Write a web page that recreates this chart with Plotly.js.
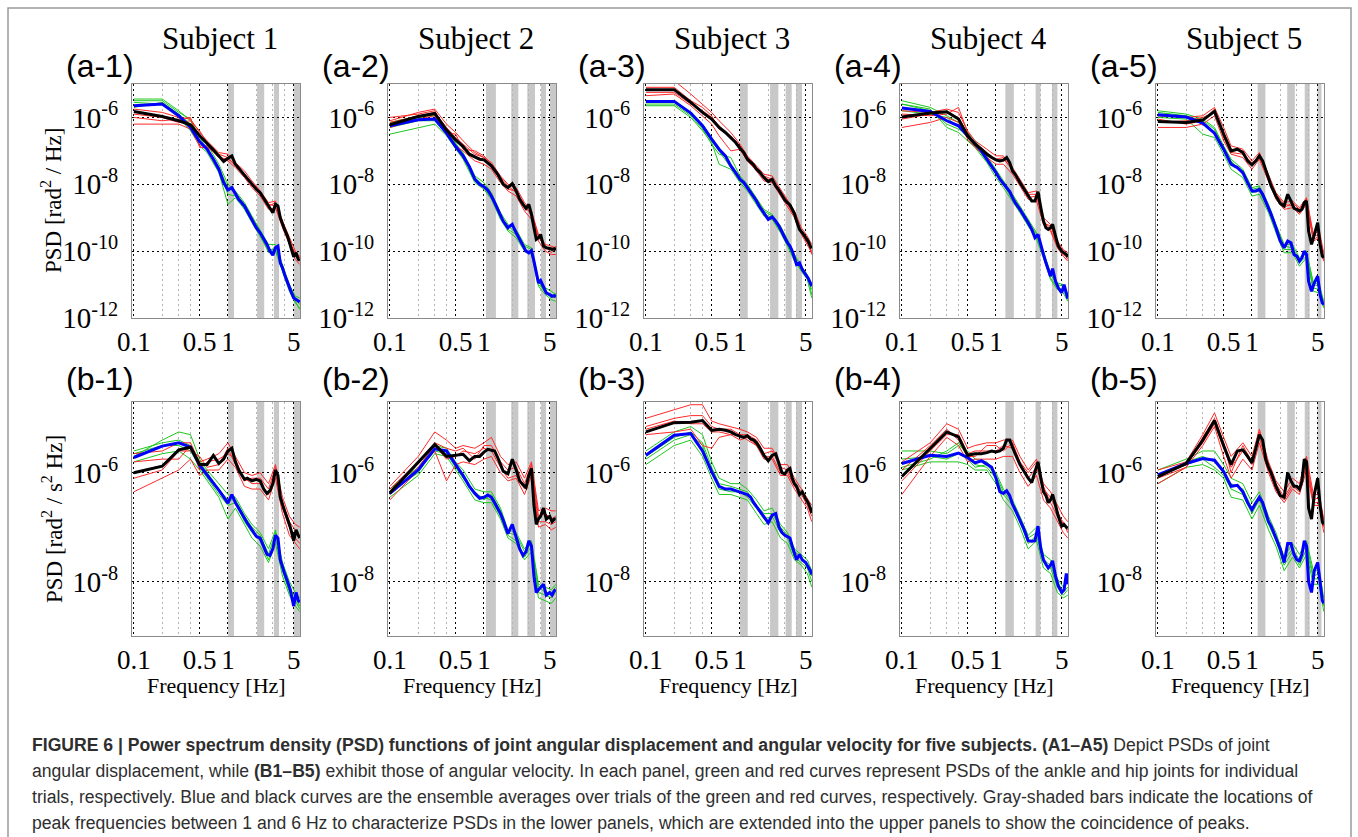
<!DOCTYPE html>
<html><head><meta charset="utf-8">
<script src="https://cdn.plot.ly/plotly-3.0.1.min.js"></script>
<style>html,body{margin:0;padding:0;background:#fff;}#chart{width:1358px;height:837px;}</style>
</head><body><div id="chart"></div>
<script>
// ---------- DATA (PSD values stored as log10 of PSD) ----------
const freqAvg = [0.1,0.2,0.3,0.4,0.5,0.6,0.7,0.8,0.9,1.0,1.1,1.2,1.3,1.4,1.5,1.6,1.8,2.0,2.2,2.4,2.6,2.8,3.0,3.2,3.4,3.6,3.8,4.0,4.3,4.6,5.0,5.3,5.6,5.8];
const freqTrial = [0.1,0.2,0.3,0.4,0.5,0.6,0.8,1.0,1.2,1.5,1.8,2.2,2.7,3.2,3.8,4.5,5.2,5.8];

const subjectTitles = ["Subject 1","Subject 2","Subject 3","Subject 4","Subject 5"];
const panelLabels = ["(a-1)","(a-2)","(a-3)","(a-4)","(a-5)","(b-1)","(b-2)","(b-3)","(b-4)","(b-5)"];
const xTickVals = [0.1,0.5,1,5];
const xTickText = ["0.1","0.5","1","5"];
const xMinorVals = [0.2,0.3,0.4,2,3,4];
const yTickValsTop = [1e-12,1e-10,1e-8,1e-6];
const yTickTextTop = ["10<sup>-12</sup>","10<sup>-10</sup>","10<sup>-8</sup>","10<sup>-6</sup>"];
const yTickValsBottom = [1e-8,1e-6];
const yTickTextBottom = ["10<sup>-8</sup>","10<sup>-6</sup>"];
const yTitleTop = "PSD [rad<sup>2</sup> / Hz]";
const yTitleBottom = "PSD [rad<sup>2</sup> / s<sup>2</sup> Hz]";
const xTitle = "Frequency [Hz]";

// gray peak bands (Hz) per subject
const bandsS1 = [[1.0,1.16],[2.04,2.43],[3.08,3.49],[5.0,5.9]];
const bandsS2 = [[1.05,1.34],[1.95,2.32],[2.89,3.49],[4.04,4.57],[5.02,5.9]];
const bandsS3 = [[1.0,1.21],[2.09,2.56],[3.06,3.55],[3.94,4.57]];
const bandsS4 = [[1.26,1.55],[2.64,2.98],[3.94,4.5]];
const bandsS5 = [[1.15,1.39],[2.37,2.86],[3.64,4.11],[4.97,5.48]];

// ----- (a) angular displacement -----
const a1_black = [-5.82,-5.97,-6.1,-6.22,-6.55,-6.77,-6.97,-7.15,-7.32,-7.22,-7.15,-7.4,-7.52,-7.62,-7.72,-7.85,-8.0,-8.15,-8.25,-8.42,-8.58,-8.75,-8.85,-8.6,-8.65,-9.0,-9.2,-9.35,-9.55,-9.8,-10.17,-10.05,-10.25,-10.27];
const a1_blue = [-5.65,-5.6,-5.95,-6.3,-6.72,-6.95,-7.25,-7.55,-7.95,-8.17,-8.1,-8.3,-8.45,-8.55,-8.65,-8.8,-9.05,-9.3,-9.45,-9.62,-9.8,-10.0,-10.12,-9.9,-9.85,-10.35,-10.5,-10.7,-10.95,-11.15,-11.4,-11.45,-11.5,-11.52];
const a1_red = [
 [-5.75,-5.85,-6.0,-6.05,-6.45,-6.7,-7.05,-7.1,-7.35,-7.6,-7.9,-8.2,-8.55,-8.5,-9.1,-9.6,-10.0,-10.2],
 [-6.2,-6.2,-6.2,-6.35,-6.85,-6.85,-7.2,-7.3,-7.5,-7.8,-8.1,-8.35,-8.75,-8.7,-9.3,-9.8,-10.25,-10.4],
 [-5.9,-6.0,-6.15,-6.1,-6.4,-6.75,-7.2,-7.25,-7.4,-7.75,-7.95,-8.2,-8.6,-8.65,-9.25,-9.75,-10.05,-10.15],
 [-6.0,-6.1,-6.05,-6.0,-6.9,-6.9,-7.1,-7.2,-7.45,-7.7,-8.05,-8.3,-8.65,-8.55,-9.15,-9.65,-10.15,-10.3]];
const a1_green = [
 [-5.45,-5.45,-5.8,-6.1,-6.55,-6.8,-7.4,-8.0,-8.2,-8.55,-8.95,-9.35,-9.8,-9.8,-10.4,-11.0,-11.35,-11.4],
 [-5.55,-5.6,-6.0,-6.4,-6.85,-7.05,-7.65,-8.6,-8.4,-8.75,-9.15,-9.55,-10.0,-10.0,-10.6,-11.2,-11.55,-11.7],
 [-5.7,-5.55,-5.9,-6.2,-6.7,-6.9,-7.5,-8.1,-8.25,-8.6,-9.0,-9.4,-9.95,-9.95,-10.45,-11.05,-11.4,-11.6],
 [-5.5,-5.5,-5.85,-6.05,-6.6,-6.95,-7.6,-8.3,-8.35,-8.7,-9.1,-9.5,-10.05,-9.85,-10.55,-11.1,-11.5,-11.75]];

const a2_black = [-6.22,-5.97,-5.88,-6.38,-6.67,-6.87,-7.1,-7.17,-7.25,-7.27,-7.35,-7.45,-7.58,-7.7,-7.85,-8.0,-8.1,-7.98,-8.2,-8.45,-8.6,-8.72,-8.6,-8.9,-9.3,-9.65,-9.6,-9.5,-9.85,-9.9,-9.92,-9.95,-9.93,-9.97];
const a2_blue = [-6.25,-6.07,-6.05,-6.47,-6.87,-7.15,-7.47,-7.85,-8.0,-8.07,-8.18,-8.35,-8.55,-8.75,-8.95,-9.1,-9.3,-9.2,-9.45,-9.65,-9.85,-10.0,-10.05,-9.98,-10.3,-10.7,-10.95,-10.88,-11.1,-11.25,-11.3,-11.35,-11.33,-11.37];
const a2_red = [
 [-6.1,-5.85,-5.75,-6.2,-6.45,-6.7,-7.05,-7.2,-7.35,-7.75,-8.0,-8.1,-8.55,-8.8,-9.5,-9.8,-9.85,-9.9],
 [-6.3,-6.05,-5.95,-6.5,-6.85,-7.0,-7.3,-7.4,-7.55,-7.95,-8.2,-8.35,-8.8,-9.05,-9.7,-10.0,-10.1,-10.1],
 [-6.15,-5.95,-5.85,-6.3,-6.6,-6.8,-7.1,-7.2,-7.5,-7.8,-8.05,-8.25,-8.7,-8.85,-9.55,-9.9,-9.9,-9.95],
 [-6.0,-5.9,-5.8,-6.45,-6.5,-6.95,-7.0,-7.15,-7.4,-7.9,-8.15,-8.2,-8.6,-8.95,-9.6,-9.85,-10.05,-9.85]];
const a2_green = [
 [-6.15,-5.95,-5.95,-6.4,-6.8,-7.05,-7.75,-7.95,-8.25,-8.85,-9.2,-9.35,-9.8,-9.9,-10.85,-11.1,-11.2,-11.3],
 [-6.5,-6.3,-6.2,-6.55,-6.95,-7.25,-7.95,-8.15,-8.45,-9.05,-9.4,-9.6,-10.0,-10.1,-11.05,-11.3,-11.45,-11.5],
 [-6.3,-6.1,-6.1,-6.5,-6.9,-7.2,-7.9,-8.1,-8.4,-9.0,-9.35,-9.5,-9.95,-10.05,-10.9,-11.25,-11.35,-11.4],
 [-6.2,-6.0,-5.9,-6.35,-6.75,-7.1,-7.8,-8.05,-8.3,-8.95,-9.25,-9.45,-9.85,-9.95,-11.0,-11.2,-11.4,-11.25]];

const a3_black = [-5.17,-5.17,-5.55,-5.85,-6.05,-6.3,-6.45,-6.6,-6.75,-6.92,-7.05,-7.25,-7.35,-7.42,-7.55,-7.62,-7.8,-7.92,-7.85,-8.05,-8.18,-8.35,-8.47,-8.55,-8.62,-8.75,-8.88,-9.1,-9.35,-9.45,-9.6,-9.7,-9.85,-9.92];
const a3_blue = [-5.52,-5.52,-5.87,-6.25,-6.65,-6.95,-7.15,-7.45,-7.65,-7.85,-7.95,-8.1,-8.22,-8.35,-8.5,-8.65,-8.85,-9.05,-8.98,-9.1,-9.25,-9.45,-9.6,-9.75,-9.85,-10.0,-10.2,-10.4,-10.35,-10.55,-10.7,-10.8,-10.95,-11.05];
const a3_red = [
 [-4.95,-4.9,-5.3,-5.6,-5.85,-6.1,-6.45,-6.8,-7.15,-7.45,-7.7,-7.75,-8.15,-8.45,-8.8,-9.3,-9.55,-9.8],
 [-5.35,-5.3,-5.65,-5.95,-6.2,-6.55,-7.0,-6.95,-7.3,-7.6,-7.9,-7.95,-8.35,-8.65,-9.0,-9.5,-9.8,-10.05],
 [-5.25,-5.25,-5.6,-5.8,-6.0,-6.25,-6.6,-6.95,-7.3,-7.55,-7.8,-7.9,-8.3,-8.6,-8.95,-9.45,-9.75,-10.0],
 [-5.1,-5.1,-5.5,-5.7,-5.95,-6.35,-6.55,-6.85,-7.2,-7.5,-7.75,-7.85,-8.2,-8.5,-8.85,-9.4,-9.65,-10.1]];
const a3_green = [
 [-5.6,-5.6,-5.95,-6.35,-6.8,-7.1,-7.2,-7.75,-8.0,-8.4,-8.75,-8.9,-9.25,-9.65,-10.1,-10.45,-10.7,-11.3],
 [-5.65,-5.65,-6.0,-6.4,-6.75,-7.4,-7.55,-7.95,-8.2,-8.6,-8.95,-9.05,-9.45,-9.85,-10.3,-10.6,-10.85,-11.4],
 [-5.55,-5.55,-5.9,-6.2,-6.6,-6.9,-7.4,-7.8,-8.05,-8.45,-8.8,-8.95,-9.3,-9.7,-10.15,-10.45,-10.75,-11.0],
 [-5.5,-5.5,-5.85,-6.3,-6.7,-7.0,-7.5,-7.9,-8.1,-8.55,-8.9,-9.0,-9.4,-9.8,-10.25,-10.55,-10.8,-11.15]];

const a4_black = [-5.99,-5.87,-5.83,-6.05,-6.55,-6.8,-6.95,-7.1,-7.2,-7.27,-7.3,-7.28,-7.2,-7.35,-7.6,-7.7,-7.95,-8.15,-8.35,-8.5,-8.5,-8.22,-8.7,-9.1,-9.3,-9.35,-9.3,-9.2,-9.55,-9.85,-10.0,-10.05,-10.1,-10.17];
const a4_blue = [-5.72,-5.82,-6.1,-6.25,-6.55,-6.8,-7.0,-7.25,-7.45,-7.65,-7.85,-7.98,-8.12,-8.22,-8.4,-8.55,-8.75,-8.95,-9.15,-9.35,-9.6,-9.5,-9.85,-10.1,-10.35,-10.55,-10.75,-10.52,-10.9,-11.1,-11.25,-11.0,-11.3,-11.42];
const a4_red = [
 [-5.8,-5.85,-5.75,-5.85,-6.4,-6.7,-6.95,-7.15,-7.15,-7.5,-7.85,-8.25,-8.2,-9.0,-9.2,-9.7,-9.95,-10.05],
 [-6.3,-6.15,-6.0,-6.15,-6.65,-6.9,-7.2,-7.4,-7.4,-7.7,-8.05,-8.45,-8.5,-9.2,-9.4,-9.9,-10.15,-10.3],
 [-6.05,-5.9,-5.85,-6.0,-6.5,-6.75,-7.05,-7.25,-7.2,-7.6,-7.9,-8.4,-8.35,-9.1,-9.35,-9.85,-10.1,-10.2],
 [-5.9,-5.95,-5.9,-5.7,-6.45,-6.85,-7.1,-7.3,-7.25,-7.55,-8.0,-8.3,-8.3,-9.15,-9.25,-9.75,-10.0,-10.25]];
const a4_green = [
 [-5.5,-5.7,-5.95,-6.15,-6.45,-6.7,-7.15,-7.55,-7.9,-8.3,-8.65,-9.05,-9.45,-10.0,-10.65,-10.95,-11.0,-11.3],
 [-5.6,-5.75,-6.3,-6.45,-6.7,-6.9,-7.35,-7.8,-8.1,-8.5,-8.85,-9.25,-9.65,-10.2,-10.85,-11.15,-11.25,-11.5],
 [-5.8,-5.9,-6.0,-6.3,-6.6,-6.85,-7.3,-7.7,-8.0,-8.45,-8.8,-9.2,-9.55,-10.15,-10.8,-11.1,-11.15,-11.45],
 [-5.6,-5.8,-6.2,-6.35,-6.5,-6.75,-7.2,-7.6,-7.95,-8.35,-8.7,-9.1,-9.5,-10.05,-10.7,-11.0,-11.05,-11.35]];

const a5_black = [-6.12,-6.15,-6.08,-5.82,-6.5,-7.0,-6.95,-7.05,-7.3,-7.42,-7.3,-7.15,-7.3,-7.55,-7.8,-8.05,-8.35,-8.57,-8.65,-8.3,-8.5,-8.72,-8.75,-8.8,-8.75,-8.55,-8.5,-9.4,-9.8,-9.5,-9.15,-9.8,-10.15,-10.2];
const a5_blue = [-5.92,-5.99,-6.17,-6.47,-6.95,-7.4,-7.5,-7.65,-7.95,-8.2,-8.2,-8.15,-8.3,-8.5,-8.7,-8.9,-9.3,-9.7,-9.9,-9.7,-9.75,-10.1,-10.15,-10.3,-10.2,-10.0,-10.1,-10.9,-11.2,-10.95,-10.75,-11.3,-11.55,-11.6];
const a5_red = [
 [-5.95,-6.0,-5.95,-5.7,-6.3,-6.85,-6.95,-7.3,-7.05,-7.7,-8.25,-8.55,-8.5,-8.7,-8.4,-9.5,-9.4,-10.05],
 [-6.3,-6.3,-6.2,-5.95,-6.7,-7.1,-7.2,-7.55,-7.25,-7.9,-8.45,-8.75,-8.7,-8.9,-8.6,-9.7,-9.6,-10.3],
 [-6.15,-6.1,-6.0,-5.85,-6.45,-6.95,-7.0,-7.45,-7.1,-7.85,-8.3,-8.6,-8.65,-8.85,-8.55,-9.65,-9.55,-10.15],
 [-6.05,-6.2,-6.1,-5.75,-6.6,-7.05,-7.1,-7.35,-7.2,-7.75,-8.4,-8.7,-8.55,-8.75,-8.45,-9.55,-9.5,-10.25]];
const a5_green = [
 [-5.8,-5.9,-6.05,-6.3,-6.85,-7.25,-7.55,-8.1,-8.05,-8.6,-9.2,-9.8,-9.8,-10.2,-10.0,-10.95,-11.0,-11.5],
 [-6.0,-6.05,-6.5,-6.6,-7.1,-7.55,-7.8,-8.35,-8.3,-8.85,-9.45,-10.05,-10.05,-10.45,-10.2,-11.2,-11.25,-11.7],
 [-5.95,-6.0,-6.2,-6.5,-7.0,-7.35,-7.6,-8.25,-8.2,-8.75,-9.35,-9.95,-9.95,-10.35,-10.15,-11.1,-11.15,-11.65],
 [-5.85,-5.95,-6.1,-6.35,-6.9,-7.3,-7.7,-8.15,-8.1,-8.65,-9.25,-9.85,-9.9,-10.25,-10.05,-11.0,-11.05,-11.55]];

// ----- (b) angular velocity -----
const b1_black = [-6.0,-5.88,-5.58,-5.53,-5.85,-5.85,-5.68,-5.83,-5.75,-5.6,-5.55,-5.8,-5.95,-6.05,-6.12,-6.1,-6.15,-6.12,-6.15,-6.3,-6.38,-6.33,-6.2,-5.95,-6.05,-6.45,-6.6,-6.7,-6.85,-7.0,-7.25,-7.05,-7.15,-7.2];
const b1_blue = [-5.72,-5.51,-5.45,-5.53,-5.86,-6.05,-6.19,-6.32,-6.44,-6.56,-6.4,-6.55,-6.65,-6.75,-6.85,-6.92,-7.05,-7.17,-7.2,-7.35,-7.5,-7.52,-7.4,-7.15,-7.2,-7.6,-7.75,-7.85,-8.0,-8.15,-8.45,-8.2,-8.35,-8.38];
const b1_red = [
 [-5.65,-5.6,-5.45,-5.45,-5.8,-5.75,-5.65,-5.45,-5.7,-6.0,-6.05,-6.0,-6.2,-5.85,-6.45,-6.8,-6.95,-7.0],
 [-6.35,-6.1,-5.95,-5.75,-6.05,-5.95,-5.95,-5.75,-5.9,-6.25,-6.3,-6.3,-6.5,-6.1,-6.75,-7.15,-7.3,-7.4],
 [-6.1,-5.95,-5.6,-5.6,-5.7,-5.9,-5.85,-5.55,-5.85,-6.1,-6.2,-6.2,-6.4,-6.0,-6.65,-7.0,-7.2,-7.3],
 [-5.8,-5.75,-5.75,-5.5,-5.95,-5.8,-5.75,-5.65,-5.75,-6.15,-6.1,-6.1,-6.3,-5.9,-6.55,-6.9,-7.05,-7.15]];
const b1_green = [
 [-5.7,-5.4,-5.25,-5.3,-5.75,-5.95,-6.2,-6.4,-6.45,-6.75,-6.95,-7.1,-7.4,-7.05,-7.65,-8.0,-8.2,-8.3],
 [-5.8,-5.65,-5.6,-5.75,-5.95,-6.15,-6.45,-6.85,-6.65,-6.95,-7.2,-7.35,-7.65,-7.3,-7.9,-8.25,-8.45,-8.55],
 [-5.6,-5.45,-5.4,-5.5,-5.8,-6.0,-6.3,-6.5,-6.5,-6.8,-7.0,-7.15,-7.5,-7.1,-7.7,-8.1,-8.3,-8.45],
 [-5.65,-5.5,-5.5,-5.6,-5.9,-6.1,-6.4,-6.6,-6.55,-6.9,-7.1,-7.25,-7.6,-7.2,-7.8,-8.2,-8.35,-8.5]];

const b2_black = [-6.37,-5.8,-5.48,-5.7,-5.68,-5.66,-5.78,-5.7,-5.7,-5.62,-5.57,-5.58,-5.6,-5.72,-5.85,-5.97,-6.02,-5.75,-5.95,-6.15,-6.22,-6.27,-6.05,-5.92,-6.6,-6.95,-6.85,-6.8,-6.65,-6.85,-6.8,-6.9,-6.85,-6.85];
const b2_blue = [-6.38,-5.95,-5.56,-5.6,-5.85,-6.05,-6.25,-6.38,-6.47,-6.45,-6.41,-6.45,-6.55,-6.65,-6.75,-6.87,-7.12,-6.95,-7.2,-7.4,-7.52,-7.45,-7.25,-7.35,-7.9,-8.2,-8.15,-8.1,-8.05,-8.25,-8.2,-8.25,-8.17,-8.15];
const b2_red = [
 [-6.25,-5.7,-5.25,-5.4,-5.55,-5.5,-5.55,-5.45,-5.35,-5.7,-5.85,-5.8,-6.1,-5.8,-6.7,-6.65,-6.7,-6.7],
 [-6.5,-5.95,-5.6,-6.15,-5.85,-5.8,-5.85,-5.75,-5.7,-6.0,-6.15,-6.1,-6.4,-6.05,-7.0,-6.95,-7.05,-7.0],
 [-6.4,-5.9,-5.5,-5.75,-5.7,-5.6,-5.65,-5.55,-5.6,-5.9,-6.1,-6.05,-6.3,-5.95,-6.9,-6.9,-6.95,-6.9],
 [-6.3,-5.8,-5.45,-5.55,-5.6,-5.55,-5.75,-5.5,-5.5,-5.8,-5.95,-5.9,-6.2,-5.85,-6.8,-6.75,-6.85,-6.8]];
const b2_green = [
 [-6.3,-5.9,-5.5,-5.55,-5.8,-5.95,-6.3,-6.35,-6.35,-6.65,-7.05,-7.1,-7.4,-7.25,-8.05,-8.1,-8.15,-8.05],
 [-6.45,-6.05,-5.65,-5.7,-5.95,-6.15,-6.5,-6.55,-6.55,-6.85,-7.2,-7.3,-7.6,-7.45,-8.3,-8.35,-8.4,-8.3],
 [-6.35,-6.0,-5.55,-5.6,-5.85,-6.05,-6.4,-6.45,-6.5,-6.8,-7.15,-7.25,-7.55,-7.35,-8.2,-8.25,-8.3,-8.2],
 [-6.4,-5.95,-5.6,-5.65,-5.9,-6.1,-6.35,-6.5,-6.4,-6.7,-7.1,-7.15,-7.45,-7.3,-8.1,-8.2,-8.2,-8.1]];

const b3_black = [-5.25,-5.08,-5.07,-5.04,-5.22,-5.2,-5.22,-5.25,-5.3,-5.33,-5.35,-5.32,-5.38,-5.4,-5.45,-5.52,-5.68,-5.78,-5.68,-5.65,-5.85,-6.0,-6.02,-5.95,-5.92,-6.1,-6.2,-6.25,-6.4,-6.35,-6.48,-6.55,-6.65,-6.74];
const b3_blue = [-5.68,-5.31,-5.28,-5.6,-5.98,-6.25,-6.3,-6.3,-6.33,-6.35,-6.38,-6.4,-6.45,-6.55,-6.62,-6.7,-6.82,-6.92,-6.78,-6.75,-7.0,-7.1,-7.15,-7.18,-7.2,-7.35,-7.5,-7.6,-7.5,-7.6,-7.65,-7.72,-7.8,-7.87];
const b3_red = [
 [-5.0,-4.85,-4.75,-4.75,-5.05,-5.1,-5.15,-5.2,-5.25,-5.35,-5.55,-5.55,-5.85,-5.85,-6.1,-6.3,-6.45,-6.6],
 [-5.3,-5.25,-5.2,-5.5,-5.55,-5.35,-5.3,-5.4,-5.35,-5.5,-5.75,-5.75,-6.05,-6.05,-6.3,-6.5,-6.65,-6.9],
 [-5.2,-5.05,-5.1,-5.1,-5.25,-5.25,-5.3,-5.3,-5.4,-5.5,-5.7,-5.7,-6.0,-6.0,-6.25,-6.4,-6.6,-6.8],
 [-5.15,-5.0,-4.95,-4.95,-5.15,-5.2,-5.2,-5.3,-5.3,-5.4,-5.65,-5.6,-5.9,-5.95,-6.2,-6.35,-6.5,-6.7]];
const b3_green = [
 [-5.6,-5.25,-5.15,-5.3,-5.8,-6.1,-6.2,-6.2,-6.3,-6.5,-6.7,-6.65,-6.95,-7.1,-7.4,-7.5,-7.6,-7.8],
 [-5.85,-5.5,-5.4,-5.7,-6.1,-6.4,-6.4,-6.45,-6.5,-6.75,-6.95,-6.9,-7.2,-7.3,-7.6,-7.7,-7.85,-8.1],
 [-5.75,-5.4,-5.3,-5.5,-6.0,-6.3,-6.35,-6.35,-6.45,-6.65,-6.85,-6.8,-7.1,-7.2,-7.55,-7.65,-7.75,-8.0],
 [-5.7,-5.35,-5.25,-5.45,-5.9,-6.2,-6.25,-6.3,-6.35,-6.6,-6.75,-6.75,-7.0,-7.15,-7.45,-7.55,-7.7,-7.9]];

const b4_black = [-6.07,-5.55,-5.25,-5.34,-5.68,-5.65,-5.65,-5.63,-5.6,-5.62,-5.6,-5.55,-5.4,-5.4,-5.55,-5.65,-5.85,-5.98,-6.1,-6.18,-6.0,-5.8,-6.1,-6.35,-6.42,-6.55,-6.5,-6.4,-6.6,-6.8,-6.98,-6.95,-7.0,-7.02];
const b4_blue = [-5.83,-5.68,-5.7,-5.64,-5.72,-5.82,-5.78,-5.85,-5.9,-6.1,-6.35,-6.38,-6.33,-6.42,-6.58,-6.68,-6.88,-7.05,-7.25,-7.26,-7.25,-6.98,-7.4,-7.6,-7.68,-7.75,-7.7,-7.62,-7.9,-8.08,-8.2,-8.15,-7.85,-8.05];
const b4_red = [
 [-5.8,-5.45,-5.1,-5.2,-5.55,-5.5,-5.45,-5.45,-5.4,-5.4,-5.7,-5.95,-5.75,-6.2,-6.35,-6.6,-6.8,-6.9],
 [-6.4,-5.7,-5.35,-5.5,-5.8,-5.75,-5.75,-5.75,-5.7,-5.7,-6.0,-6.25,-6.05,-6.5,-6.65,-6.9,-7.1,-7.2],
 [-6.15,-5.6,-5.3,-5.3,-5.65,-5.6,-5.6,-5.6,-5.5,-5.55,-5.85,-6.1,-5.9,-6.3,-6.45,-6.7,-6.95,-7.05],
 [-5.95,-5.5,-5.2,-5.4,-5.7,-5.7,-5.5,-5.5,-5.6,-5.45,-5.8,-6.0,-5.8,-6.25,-6.55,-6.8,-6.9,-7.1]];
const b4_green = [
 [-5.6,-5.6,-5.65,-5.5,-5.6,-5.75,-5.8,-6.0,-6.3,-6.5,-6.8,-7.15,-7.0,-7.5,-7.6,-7.95,-8.1,-7.95],
 [-5.95,-5.8,-5.8,-5.8,-5.85,-5.95,-5.95,-6.2,-6.5,-6.7,-7.0,-7.4,-7.25,-7.75,-7.85,-8.2,-8.3,-8.25],
 [-5.9,-5.75,-5.6,-5.45,-5.7,-5.85,-5.9,-6.1,-6.4,-6.6,-6.9,-7.3,-7.15,-7.65,-7.75,-8.1,-8.25,-8.15],
 [-5.75,-5.7,-5.75,-5.65,-5.75,-5.9,-5.85,-6.05,-6.35,-6.55,-6.85,-7.2,-7.1,-7.6,-7.7,-8.0,-8.2,-8.1]];

const b5_black = [-6.07,-5.83,-5.4,-5.04,-5.5,-5.85,-5.6,-5.58,-5.7,-5.82,-5.55,-5.3,-5.4,-5.75,-5.9,-6.0,-6.25,-6.42,-6.45,-6.0,-6.15,-6.25,-6.25,-6.3,-6.15,-5.75,-5.8,-6.65,-6.85,-6.4,-6.1,-6.6,-6.9,-6.95];
const b5_blue = [-6.04,-5.83,-5.74,-5.77,-5.98,-6.25,-6.23,-6.35,-6.55,-6.68,-6.55,-6.45,-6.55,-6.75,-6.9,-6.98,-7.2,-7.4,-7.65,-7.3,-7.3,-7.5,-7.6,-7.62,-7.5,-7.25,-7.35,-8.0,-8.2,-7.8,-7.65,-8.05,-8.35,-8.4];
const b5_red = [
 [-5.95,-5.8,-5.3,-4.9,-5.35,-5.7,-5.45,-5.7,-5.2,-5.8,-6.15,-6.35,-6.1,-6.2,-5.7,-6.4,-6.4,-6.85],
 [-6.2,-5.9,-5.5,-5.15,-5.7,-6.1,-5.75,-5.95,-5.45,-6.0,-6.35,-6.55,-6.3,-6.4,-5.95,-6.6,-6.6,-7.1],
 [-6.05,-5.85,-5.45,-5.1,-5.55,-5.9,-5.6,-5.85,-5.35,-5.95,-6.3,-6.5,-6.25,-6.35,-5.85,-6.55,-6.55,-7.0],
 [-6.1,-5.9,-5.35,-5.0,-5.45,-6.0,-5.5,-5.8,-5.25,-5.85,-6.2,-6.45,-6.2,-6.3,-5.75,-6.5,-6.45,-6.9]];
const b5_green = [
 [-5.95,-5.75,-5.6,-5.6,-5.85,-6.1,-6.2,-6.55,-6.35,-6.8,-7.1,-7.55,-7.3,-7.5,-7.25,-7.8,-7.8,-8.3],
 [-6.2,-5.9,-5.85,-5.95,-6.1,-6.45,-6.5,-6.85,-6.6,-7.05,-7.35,-7.8,-7.55,-7.75,-7.5,-8.05,-8.05,-8.55],
 [-6.05,-5.85,-5.75,-5.9,-6.05,-6.3,-6.4,-6.75,-6.5,-6.95,-7.25,-7.7,-7.45,-7.7,-7.4,-7.95,-7.95,-8.45],
 [-6.1,-5.8,-5.7,-5.8,-6.0,-6.2,-6.3,-6.65,-6.45,-6.9,-7.2,-7.6,-7.4,-7.6,-7.3,-7.9,-7.85,-8.4]];

const captionLines = [
 "<b>FIGURE 6 | Power spectrum density (PSD) functions of joint angular displacement and angular velocity for five subjects. (A1–A5)</b> Depict PSDs of joint",
 "angular displacement, while <b>(B1–B5)</b> exhibit those of angular velocity. In each panel, green and red curves represent PSDs of the ankle and hip joints for individual",
 "trials, respectively. Blue and black curves are the ensemble averages over trials of the green and red curves, respectively. Gray-shaded bars indicate the locations of",
 "peak frequencies between 1 and 6 Hz to characterize PSDs in the lower panels, which are extended into the upper panels to show the coincidence of peaks."
];

// ---------- BUILD ----------
const W = 1358, H = 837;
const SERIF = "Liberation Serif, Times New Roman, serif";
const SANS = "Liberation Sans, Arial, Helvetica, sans-serif";
const GREEN = "#1ec81e", RED = "#ff2a2a", BLUE = "#0000ff", BLACK = "#000000";
const toPSD = arr => arr.map(v => Math.pow(10, v));

const panels = [
 {black:a1_black, blue:a1_blue, red:a1_red, green:a1_green, bands:bandsS1},
 {black:a2_black, blue:a2_blue, red:a2_red, green:a2_green, bands:bandsS2},
 {black:a3_black, blue:a3_blue, red:a3_red, green:a3_green, bands:bandsS3},
 {black:a4_black, blue:a4_blue, red:a4_red, green:a4_green, bands:bandsS4},
 {black:a5_black, blue:a5_blue, red:a5_red, green:a5_green, bands:bandsS5},
 {black:b1_black, blue:b1_blue, red:b1_red, green:b1_green, bands:bandsS1},
 {black:b2_black, blue:b2_blue, red:b2_red, green:b2_green, bands:bandsS2},
 {black:b3_black, blue:b3_blue, red:b3_red, green:b3_green, bands:bandsS3},
 {black:b4_black, blue:b4_blue, red:b4_red, green:b4_green, bands:bandsS4},
 {black:b5_black, blue:b5_blue, red:b5_red, green:b5_green, bands:bandsS5}
];

// layout geometry (pixels)
const colLeft0 = 132, colStep = 256, plotW = 168;
const rowTop = [84, 402], plotH = 234;
const px = v => v / W, py = v => 1 - v / H;

const traces = [], shapes = [], annotations = [];
const layout = {
  width: W, height: H, margin: {l:0, r:0, t:0, b:0},
  paper_bgcolor: "#fff", plot_bgcolor: "rgba(0,0,0,0)", showlegend: false,
  font: {family: SERIF, color: "#000"}
};

panels.forEach((p, i) => {
  const row = i < 5 ? 0 : 1, col = i % 5;
  const sfx = i === 0 ? "" : String(i + 1);
  const xa = "x" + sfx, ya = "y" + sfx;
  const left = colLeft0 + col * colStep, right = left + plotW;
  const top = rowTop[row], bottom = top + plotH;

  layout["xaxis" + sfx] = {
    domain: [px(left), px(right)], anchor: ya, type: "log", range: [-1.02, 0.766],
    tickmode: "array", tickvals: xTickVals, ticktext: xTickText,
    tickfont: {family: SERIF, size: 27, color: "#000"},
    ticks: "",
    showgrid: true, gridcolor: "#000", griddash: "2px,3px", gridwidth: 1,
    minor: {tickmode: "array", tickvals: xMinorVals, showgrid: true, gridcolor: "#b4b4b4", griddash: "2px,3px", gridwidth: 1, ticks: ""},
    showline: true, mirror: true, linecolor: "#8a8a8a", linewidth: 1, zeroline: false, fixedrange: true
  };
  layout["yaxis" + sfx] = {
    domain: [py(bottom), py(top)], anchor: xa, type: "log",
    range: row === 0 ? [-12, -5] : [-9, -4.7],
    tickmode: "array",
    tickvals: row === 0 ? yTickValsTop : yTickValsBottom,
    ticktext: row === 0 ? yTickTextTop : yTickTextBottom,
    tickfont: {family: SERIF, size: 29, color: "#000"},
    ticks: "outside", ticklen: 7, tickcolor: "rgba(0,0,0,0)",
    showgrid: true, gridcolor: "#000", griddash: "2px,3px", gridwidth: 1,
    showline: true, mirror: true, linecolor: "#8a8a8a", linewidth: 1, zeroline: false, fixedrange: true
  };

  p.bands.forEach(b => shapes.push({
    type: "rect", xref: xa, yref: ya + " domain", x0: b[0], x1: b[1], y0: 0, y1: 1,
    fillcolor: "#c8c8c8", line: {width: 0}, layer: "below"
  }));

  p.green.forEach(g => traces.push({x: freqTrial, y: toPSD(g), xaxis: xa, yaxis: ya, mode: "lines", line: {color: GREEN, width: 1}, hoverinfo: "skip"}));
  p.red.forEach(r => traces.push({x: freqTrial, y: toPSD(r), xaxis: xa, yaxis: ya, mode: "lines", line: {color: RED, width: 1}, hoverinfo: "skip"}));
  traces.push({x: freqAvg, y: toPSD(p.blue), xaxis: xa, yaxis: ya, mode: "lines", line: {color: BLUE, width: 3}, hoverinfo: "skip"});
  traces.push({x: freqAvg, y: toPSD(p.black), xaxis: xa, yaxis: ya, mode: "lines", line: {color: BLACK, width: 3}, hoverinfo: "skip"});

  // panel label
  annotations.push({xref: "paper", yref: "paper", x: px(left - 32), y: py(row === 0 ? 66 : 379),
    text: panelLabels[i], showarrow: false, xanchor: "center", yanchor: "middle",
    font: {family: SANS, size: 32, color: "#000"}});
  if (row === 0) {
    annotations.push({xref: "paper", yref: "paper", x: px((left + right) / 2 + 4), y: py(38),
      text: subjectTitles[col], showarrow: false, xanchor: "center", yanchor: "middle",
      font: {family: SERIF, size: 31, color: "#000"}});
  } else {
    annotations.push({xref: "paper", yref: "paper", x: px((left + right) / 2), y: py(685),
      text: xTitle, showarrow: false, xanchor: "center", yanchor: "middle",
      font: {family: SERIF, size: 22, color: "#000"}});
  }
  if (col === 0) {
    annotations.push({xref: "paper", yref: "paper", x: px(52), y: py((top + bottom) / 2),
      text: row === 0 ? yTitleTop : yTitleBottom, showarrow: false, textangle: -90,
      xanchor: "center", yanchor: "middle", font: {family: SERIF, size: 23, color: "#000"}});
  }
});

// caption
const captionY = [745, 771, 797, 823];
captionLines.forEach((t, k) => annotations.push({xref: "paper", yref: "paper", x: px(30), y: py(captionY[k]),
  text: t, showarrow: false, xanchor: "left", yanchor: "middle", align: "left",
  font: {family: SANS, size: 17.6, color: "#2e2e2e"}}));

// outer frame
shapes.push({type: "rect", xref: "paper", yref: "paper", x0: px(8), x1: px(1351), y0: py(850), y1: py(8),
  line: {color: "#9a9a9a", width: 1.5}, fillcolor: "rgba(0,0,0,0)", layer: "above"});

layout.shapes = shapes;
layout.annotations = annotations;

Plotly.newPlot("chart", traces, layout, {displayModeBar: false, staticPlot: true});
</script>
</body></html>
